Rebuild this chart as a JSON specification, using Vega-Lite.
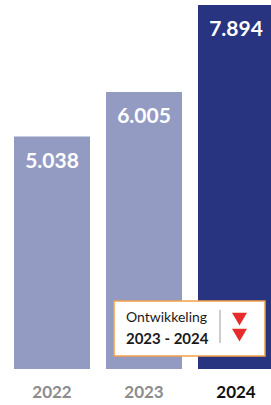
{
  "$schema": "https://vega.github.io/schema/vega-lite/v6.json",
  "width": 271,
  "height": 369,
  "padding": {"left": 0, "top": 0, "right": 0, "bottom": 36},
  "autosize": {"type": "none"},
  "background": "white",
  "config": {
    "view": {"stroke": null},
    "font": "Lato",
    "locale": {"number": {"decimal": ",", "thousands": ".", "grouping": [3], "currency": ["€", ""]}}
  },
  "layer": [
    {
      "data": {"values": [
        {"year": "2022", "value": 5038},
        {"year": "2023", "value": 6005},
        {"year": "2024", "value": 7894}
      ]},
      "layer": [
        {
          "mark": {"type": "bar"},
          "encoding": {
            "x": {"field": "year", "type": "nominal", "sort": null,
              "scale": {"range": [14, 274], "paddingInner": 0.174, "paddingOuter": 0},
              "axis": {"title": null, "domain": false, "ticks": false, "labelAngle": 0,
                "labelPadding": 15, "labelFontSize": 17, "labelFont": "Lato",
                "labelFontWeight": "bold",
                "labelColor": {"condition": {"test": "datum.value == '2024'", "value": "#111111"}, "value": "#8c8c8c"}}},
            "y": {"field": "value", "type": "quantitative",
              "scale": {"domain": [0, 8000], "nice": false}, "axis": null},
            "color": {"field": "year", "type": "nominal",
              "scale": {"domain": ["2022", "2023", "2024"], "range": ["#939BC3", "#939BC3", "#283480"]},
              "legend": null}
          }
        },
        {
          "mark": {"type": "text", "color": "white", "fontSize": 21, "fontWeight": "bold", "baseline": "middle", "dy": 25},
          "encoding": {
            "x": {"field": "year", "type": "nominal", "sort": null},
            "y": {"field": "value", "type": "quantitative"},
            "text": {"field": "value", "type": "quantitative", "format": ",d"}
          }
        }
      ]
    },
    {
      "layer": [
        {
          "data": {"values": [{"u1": 1.174, "u2": 2.815, "v1": 1475, "v2": 282}]},
          "mark": {"type": "rect", "fill": "white", "stroke": "#F2A04A", "strokeWidth": 1.5},
          "encoding": {
            "x": {"field": "u1", "type": "quantitative", "scale": {"domain": [0, 3], "range": [6, 282], "nice": false, "zero": false}, "axis": null},
            "x2": {"field": "u2"},
            "y": {"field": "v1", "type": "quantitative"},
            "y2": {"field": "v2"}
          }
        },
        {
          "data": {"values": [{"u": 1.304, "v": 1025, "label": "Ontwikkeling"}]},
          "mark": {"type": "text", "align": "left", "baseline": "alphabetic", "fontSize": 14, "color": "#1a1a1a"},
          "encoding": {
            "x": {"field": "u", "type": "quantitative"},
            "y": {"field": "v", "type": "quantitative"},
            "text": {"field": "label"}
          }
        },
        {
          "data": {"values": [{"u": 1.304, "v": 535, "label": "2023 - 2024"}]},
          "mark": {"type": "text", "align": "left", "baseline": "alphabetic", "fontSize": 15, "fontWeight": "bold", "color": "#1a1a1a"},
          "encoding": {
            "x": {"field": "u", "type": "quantitative"},
            "y": {"field": "v", "type": "quantitative"},
            "text": {"field": "label"}
          }
        },
        {
          "data": {"values": [{"u": 2.326, "v1": 1279, "v2": 564}]},
          "mark": {"type": "rule", "color": "#9a9a9a", "strokeWidth": 1},
          "encoding": {
            "x": {"field": "u", "type": "quantitative"},
            "y": {"field": "v1", "type": "quantitative"},
            "y2": {"field": "v2"}
          }
        },
        {
          "data": {"values": [{"u": 2.538, "v": 1084}, {"u": 2.538, "v": 737}]},
          "mark": {"type": "point", "filled": true, "color": "#E52D2D", "opacity": 1, "size": 225,
            "shape": "M-1,-0.85L1,-0.85L0,0.85Z"},
          "encoding": {
            "x": {"field": "u", "type": "quantitative"},
            "y": {"field": "v", "type": "quantitative"}
          }
        }
      ]
    }
  ],
  "resolve": {"scale": {"x": "independent"}}
}
